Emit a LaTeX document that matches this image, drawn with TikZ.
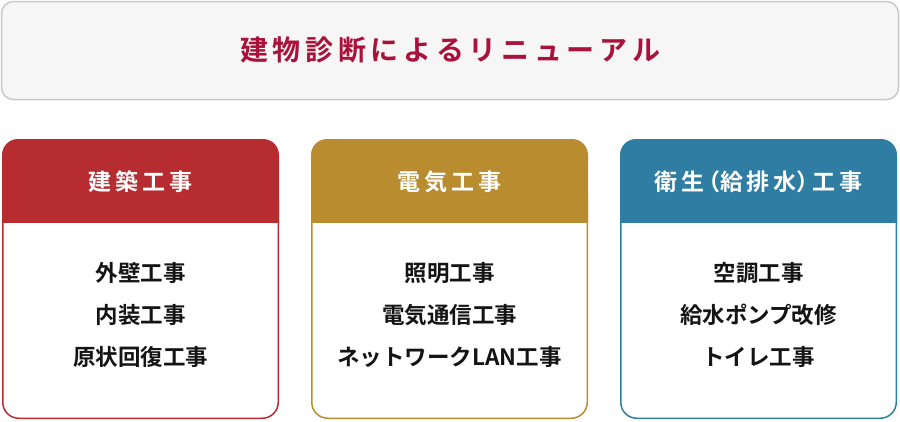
\documentclass[tikz,border=0pt]{standalone}
\usepackage{fontspec}
\setmainfont{Noto Sans CJK JP}[BoldFont={* Bold}]
\newfontfamily\jpb{Noto Sans CJK JP Bold}
\definecolor{titlered}{HTML}{A8123B}
\definecolor{hdred}{HTML}{B72C31}
\definecolor{hdgold}{HTML}{B98C2F}
\definecolor{hdblue}{HTML}{2F7DA3}
\definecolor{topfill}{HTML}{F6F6F6}
\definecolor{topline}{HTML}{C8C8C8}
\definecolor{bodytxt}{HTML}{141414}
\tikzset{
  x=1pt, y=-1pt,
  titletext/.style={font=\jpb\fontsize{28}{32}\selectfont, text=titlered, inner sep=0pt},
  headtext/.style={font=\jpb\fontsize{23}{27}\selectfont, text=white, inner sep=0pt},
  bodytext/.style={font=\jpb\fontsize{22.5}{26}\selectfont, text=bodytxt, inner sep=0pt},
}
\begin{document}
\begin{tikzpicture}
\useasboundingbox (0,0) rectangle (900,421);
% top box
\draw[topline, fill=topfill, line width=1.5pt, rounded corners=12pt] (1.5,1.5) rectangle (898.5,99.5);
\node[titletext] (title) at (450,50) {建\,物\,診\,断\,に\,よ\,る\,リ\,ニ\,ュ\,ー\,ア\,ル};
% cards
\foreach \x/\c in {2/hdred, 311/hdgold, 620/hdblue}{
  \begin{scope}
    \fill[\c, rounded corners=16pt] (\x,139) rectangle (\x+277,240);
    \fill[white, rounded corners=16pt] (\x,200) rectangle (\x+277,419);
    \fill[\c] (\x,139+16) rectangle (\x+277,223);
    \fill[white] (\x+1.5,223) rectangle (\x+275.5,300);
    \draw[\c, line width=1.5pt, rounded corners=16pt] (\x+0.75,200) -- (\x+0.75,418.25) -- (\x+276.25,418.25) -- (\x+276.25,200);
  \end{scope}
}
\node[headtext] (ha) at (140.5,182) {建\,築\,工\,事};
\node[headtext] (hb) at (449.5,182) {電\,気\,工\,事};
\node[headtext] (hc) at (758.5,182) {衛\,生\hspace{-0.3em}（給\,排\,水）\hspace{-0.3em}工\,事};
\node[bodytext] (a1) at (140.5,273) {外壁工事};
\node[bodytext] (a2) at (140.5,315) {内装工事};
\node[bodytext] (a3) at (140.5,357) {原状回復工事};
\node[bodytext] (b1) at (449.5,273) {照明工事};
\node[bodytext] (b2) at (449.5,315) {電気通信工事};
\node[bodytext] (b3) at (449.5,357) {ネットワークLAN工事};
\node[bodytext] (c1) at (758.5,273) {空調工事};
\node[bodytext] (c2) at (758.5,315) {給水ポンプ改修};
\node[bodytext] (c3) at (758.5,357) {トイレ工事};
\end{tikzpicture}
\end{document}
